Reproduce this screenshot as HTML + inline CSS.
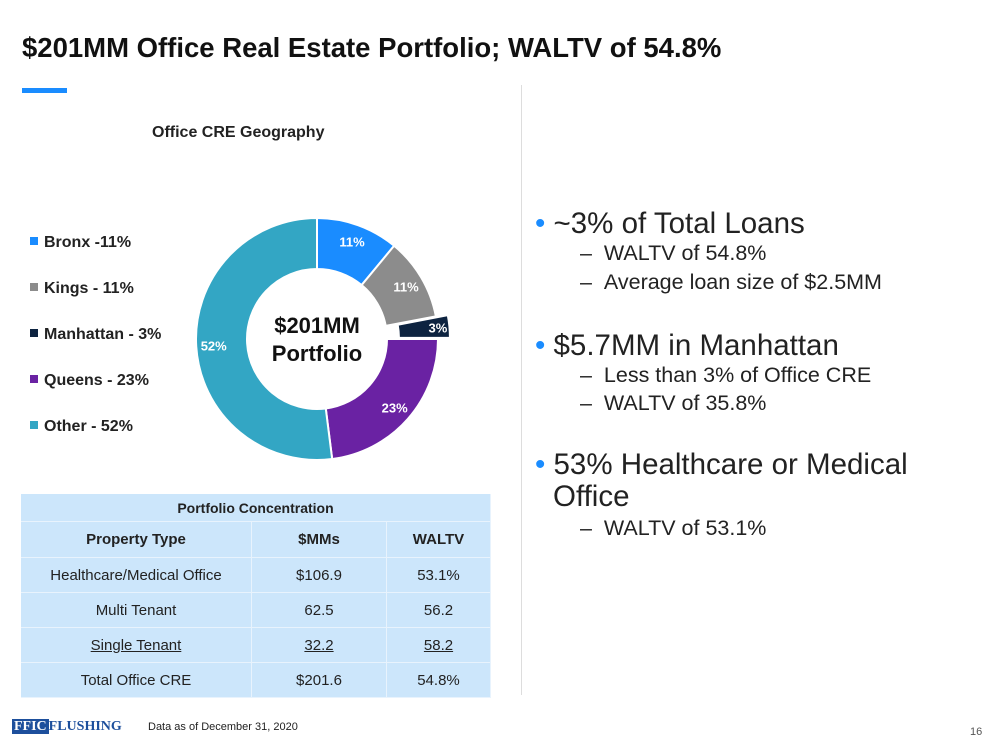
<!DOCTYPE html>
<html><head><meta charset="utf-8"><style>
body{margin:0;width:1000px;height:750px;background:#fff;font-family:"Liberation Sans",sans-serif;position:relative;overflow:hidden}
.a{position:absolute}
table{border-collapse:collapse;position:absolute;left:21px;top:494px;width:470px;background:#cce6fb}
td{text-align:center;font-size:15px;color:#222;border-bottom:1px solid #e8f3fd;border-right:1px solid #e8f3fd;padding:0;height:34px}
.bl{position:absolute;left:535px;font-size:29.5px;color:#222;line-height:32px;white-space:nowrap}
.sl{position:absolute;left:580px;font-size:21.5px;color:#222;line-height:24px;white-space:nowrap}
</style></head><body>
<div class="a" style="left:22px;top:32px;font-size:27.5px;font-weight:bold;color:#111;white-space:nowrap">$201MM Office Real Estate Portfolio; WALTV of 54.8%</div>
<div class="a" style="left:22px;top:88px;width:45px;height:5px;background:#1a8cff"></div>
<div class="a" style="left:521px;top:85px;width:1px;height:610px;background:#ddd"></div>
<div class="a" style="left:152px;top:124px;font-size:16px;font-weight:bold;color:#222">Office CRE Geography</div>
<div id="legend"></div>
<svg class="a" style="left:0;top:0" width="1000" height="750" id="chart"></svg>
<div class="a" style="left:258px;top:312px;font-size:22px;font-weight:bold;line-height:28px;color:#111;text-align:center;width:118px">$201MM<br>Portfolio</div>

<table>
<tr><td colspan="3" style="font-weight:bold;height:27px;font-size:14px">Portfolio Concentration</td></tr>
<tr><td style="font-weight:bold;width:230px;height:35px">Property Type</td><td style="font-weight:bold;width:134px">$MMs</td><td style="font-weight:bold">WALTV</td></tr>
<tr><td>Healthcare/Medical Office</td><td>$106.9</td><td>53.1%</td></tr>
<tr><td>Multi Tenant</td><td>62.5</td><td>56.2</td></tr>
<tr><td><u>Single Tenant</u></td><td><u>32.2</u></td><td><u>58.2</u></td></tr>
<tr><td>Total Office CRE</td><td>$201.6</td><td>54.8%</td></tr>
</table>

<div>
<div class="bl" style="top:208px"><span style="color:#1a8cff">•</span> ~3% of Total Loans</div>
<div class="sl" style="top:241px">– &nbsp;WALTV of 54.8%</div>
<div class="sl" style="top:270px">– &nbsp;Average loan size of $2.5MM</div>
<div class="bl" style="top:330px"><span style="color:#1a8cff">•</span> $5.7MM in Manhattan</div>
<div class="sl" style="top:363px">– &nbsp;Less than 3% of Office CRE</div>
<div class="sl" style="top:391px">– &nbsp;WALTV of 35.8%</div>
<div class="bl" style="top:449px"><span style="color:#1a8cff">•</span> 53% Healthcare or Medical</div>
<div class="bl" style="top:481px;left:553px">Office</div>
<div class="sl" style="top:516px">– &nbsp;WALTV of 53.1%</div>
</div>

<div class="a" style="left:12px;top:719px;height:18px;font-family:'Liberation Serif',serif;font-weight:bold;font-size:14px;color:#1d4f9c;white-space:nowrap"><span style="background:#1d4f9c;color:#fff;padding:0 2px">FFIC</span>FLUSHING</div>
<div class="a" style="left:148px;top:721px;font-size:11px;color:#222">Data as of December 31, 2020</div>
<div class="a" style="left:970px;top:726px;font-size:11px;color:#555">16</div>

<script>
const categories=["Bronx","Kings","Manhattan","Queens","Other"];
const legendLabels=["Bronx -11%","Kings - 11%","Manhattan - 3%","Queens - 23%","Other - 52%"];
const values=[11,11,3,23,52];
const colors=["#1a8cff","#8c8c8c","#0d2340","#6a22a3","#33a6c4"];
const NS="http://www.w3.org/2000/svg";
const svg=document.getElementById('chart');
const cx=317,cy=339,R=121,r=70;
const total=values.reduce((a,b)=>a+b,0);
let ang=0;
values.forEach((v,i)=>{
  const a0=ang/total*2*Math.PI, a1=(ang+v)/total*2*Math.PI; ang+=v;
  const mid=(a0+a1)/2;
  const off=i===2?12:0;
  const ox=cx+off*Math.sin(mid), oy=cy-off*Math.cos(mid);
  const p=(rad,a)=>[ox+rad*Math.sin(a),oy-rad*Math.cos(a)];
  const [x0,y0]=p(R,a0),[x1,y1]=p(R,a1),[x2,y2]=p(r,a1),[x3,y3]=p(r,a0);
  const lg=(a1-a0)>Math.PI?1:0;
  const path=document.createElementNS(NS,'path');
  path.setAttribute('d',`M${x0},${y0}A${R},${R} 0 ${lg} 1 ${x1},${y1}L${x2},${y2}A${r},${r} 0 ${lg} 0 ${x3},${y3}Z`);
  path.setAttribute('fill',colors[i]);path.setAttribute('stroke','#fff');path.setAttribute('stroke-width','2');
  
  
  svg.appendChild(path);
  const lr=i===2?(R+r)/2+14:(R+r)/2+8;
  const t=document.createElementNS(NS,'text');
  t.setAttribute('x',ox+lr*Math.sin(mid));t.setAttribute('y',oy-lr*Math.cos(mid)+5);
  t.setAttribute('text-anchor','middle');t.setAttribute('fill','#fff');
  t.setAttribute('font-size','13');t.setAttribute('font-weight','bold');
  t.setAttribute('font-family','Liberation Sans, sans-serif');
  t.textContent=v+'%';
  
  
  svg.appendChild(t);
});
const lg=document.getElementById('legend');
legendLabels.forEach((l,i)=>{
  const d=document.createElement('div');
  d.className='a';d.style.left='30px';d.style.top=(234+i*46)+'px';
  d.style.fontSize='16px';d.style.fontWeight='bold';d.style.color='#222';
  d.innerHTML=`<span style="display:inline-block;width:8px;height:8px;background:${colors[i]};margin-right:6px;vertical-align:2px"></span>${l}`;
  
  
  lg.appendChild(d);
});
</script>
</body></html>
